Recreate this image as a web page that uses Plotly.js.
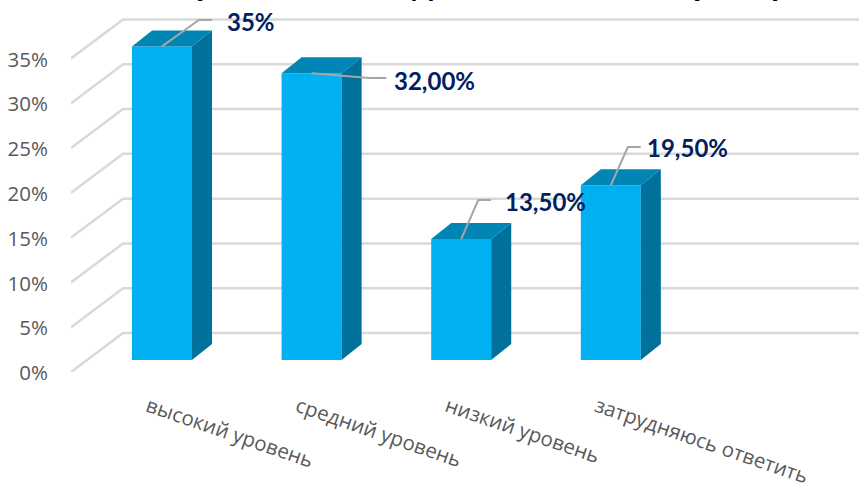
<!DOCTYPE html>
<html>
<head>
<meta charset="utf-8">
<script src="https://cdn.plot.ly/plotly-3.0.1.min.js"></script>
<style>html,body{margin:0;padding:0;background:#fff;overflow:hidden}#chart{width:859px;height:485px}</style>
</head>
<body>
<div id="chart"></div>
<script>
// Data
const categories = ["высокий уровень", "средний уровень", "низкий уровень", "затрудняюсь ответить"];
const values = [35, 32, 13.5, 19.5];
const valueLabels = ["35%", "32,00%", "13,50%", "19,50%"];
const gridTicks = [0, 5, 10, 15, 20, 25, 30, 35];
// The title is cut off by the top edge of the reference: only these descenders show
const titleFragments = ["р", "д", ",", "р", "у"];
const titleFragmentX = [205, 423, 562, 702, 778];

// Styling / pseudo-3D geometry, in axis units
const xRange = [-0.608, 4.659];
const yRange = [0, 41.52];
const barWidth = 0.401;
const barLift = 1.34;
const depthX = 0.134, depthY = 1.786;
const wallX = 0.348, wallY = 4.35;
const leaderKneeX = [0.247, 0.388, 0.114, 0.114];
const leaderKneeY = [2.95, -0.53, 4.36, 4.27];
const leaderEndX = [0.334, 0.50, 0.20, 0.20];
const labelX = [0.422, 0.535, 0.278, 0.228];
const labelY = [2.83, -0.75, 4.24, 4.27];

const frontColor = "#00B0F0", topColor = "#0085B5", sideColor = "#00719B";
const gridColor = "#D9D9D9", leaderColor = "#A6A6A6", labelColor = "#002060", tickColor = "#595959";

const traces = [];
// Floor/back-wall gridlines, drawn beneath every trace
const gridShapes = gridTicks.map(t => ({
  type: "path", xref: "x", yref: "y", layer: "below",
  path: `M ${xRange[0]} ${t} L ${xRange[0] + wallX} ${t + wallY} L ${xRange[1]} ${t + wallY}`,
  line: {color: gridColor, width: 2.5}
}));
// Front faces
traces.push({
  type: "bar", x: categories.map((_, i) => i), y: values, base: values.map(() => barLift),
  width: barWidth, marker: {color: frontColor, line: {width: 0}}, showlegend: false, hoverinfo: "skip"
});
// Top and side faces
values.forEach((v, i) => {
  const l = i - barWidth / 2, r = i + barWidth / 2, b = barLift, t = barLift + v;
  traces.push({
    type: "scatter", mode: "lines", fill: "toself", fillcolor: topColor, hoverinfo: "skip", showlegend: false,
    x: [l, r, r + depthX, l + depthX, l], y: [t, t, t + depthY, t + depthY, t], line: {width: 0, color: topColor}
  });
  traces.push({
    type: "scatter", mode: "lines", fill: "toself", fillcolor: sideColor, hoverinfo: "skip", showlegend: false,
    x: [r, r + depthX, r + depthX, r, r], y: [b, b + depthY, t + depthY, t, b], line: {width: 0, color: sideColor}
  });
});
// Leader lines
values.forEach((v, i) => {
  const t = barLift + v;
  traces.push({
    type: "scatter", mode: "lines", hoverinfo: "skip", showlegend: false,
    x: [i, i + leaderKneeX[i], i + leaderEndX[i]],
    y: [t, t + leaderKneeY[i], t + leaderKneeY[i]],
    line: {color: leaderColor, width: 2}
  });
});

const annotations = valueLabels.map((txt, i) => ({
  xref: "x", yref: "y", x: i + labelX[i], y: barLift + values[i] + labelY[i],
  text: txt, showarrow: false, xanchor: "left", yanchor: "middle",
  font: {family: "Lato, 'Open Sans', sans-serif", size: 24, color: labelColor, weight: 700}
}));
titleFragments.forEach((txt, i) => annotations.push({
  xref: "paper", yref: "paper", x: (titleFragmentX[i] - 71) / 788, y: 1,
  text: "<b>" + txt + "</b>", showarrow: false, xanchor: "center", yanchor: "bottom", yshift: -4,
  font: {family: "Lato, 'Open Sans', sans-serif", size: 34, color: "#000000"}
}));

const layout = {
  width: 859, height: 485,
  margin: {l: 71, r: 0, t: 0, b: 113, pad: 0},
  paper_bgcolor: "#fff", plot_bgcolor: "#fff",
  showlegend: false,
  barmode: "overlay",
  shapes: gridShapes,
  xaxis: {
    range: xRange, tickmode: "array", tickvals: categories.map((_, i) => i), ticktext: categories,
    tickangle: 19, showgrid: false, zeroline: false, showline: false, ticks: "",
    ticklabelstandoff: 18, ticklabelshift: -14,
    tickfont: {family: "'Open Sans', sans-serif", size: 20.5, color: tickColor}, automargin: false, fixedrange: true
  },
  yaxis: {
    range: yRange, tickmode: "array", tickvals: gridTicks, ticktext: gridTicks.map(t => t + "%"),
    showgrid: false, zeroline: false, showline: false,
    ticks: "outside", ticklen: 18, tickcolor: "rgba(0,0,0,0)", ticklabelshift: 1,
    tickfont: {family: "'Open Sans', sans-serif", size: 20.5, color: tickColor}, automargin: false, fixedrange: true
  },
  annotations: annotations
};
Plotly.newPlot("chart", traces, layout, {displayModeBar: false, staticPlot: true});
</script>
</body>
</html>
